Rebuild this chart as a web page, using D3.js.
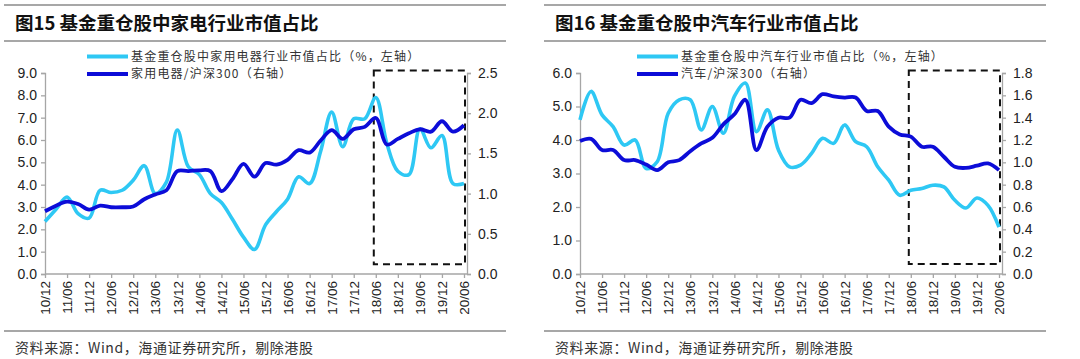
<!DOCTYPE html>
<html>
<head>
<meta charset="utf-8">
<script src="https://cdn.jsdelivr.net/npm/d3@7"></script>
<style>
  body { margin: 0; background: #fff; }
  text { font-family: "Liberation Sans", Arial, sans-serif; }
  .cjk { font-family: "Noto Sans CJK SC", sans-serif; }
</style>
</head>
<body>
<script>
var w = 1080;
var h = 359;

// quarterly categories, 10/12 .. 20/06
var quarters = ["10/12","11/03","11/06","11/09","11/12","12/03","12/06","12/09","12/12",
  "13/03","13/06","13/09","13/12","14/03","14/06","14/09","14/12","15/03","15/06","15/09",
  "15/12","16/03","16/06","16/09","16/12","17/03","17/06","17/09","17/12","18/03","18/06",
  "18/09","18/12","19/03","19/06","19/09","19/12","20/03","20/06"];

// labelled ticks (half years)
var tickLabels = ["10/12","11/06","11/12","12/06","12/12","13/06","13/12","14/06","14/12",
  "15/06","15/12","16/06","16/12","17/06","17/12","18/06","18/12","19/06","19/12","20/06"];

// 家电
var applianceShare = [2.35,2.9,3.45,2.7,2.5,3.75,3.65,3.75,4.2,4.85,3.6,4.1,6.45,4.8,4.45,
  3.6,3.2,2.45,1.65,1.1,2.2,2.8,3.35,4.35,4.05,5.5,7.25,5.7,6.95,6.95,7.9,5.85,4.6,4.45,
  6.5,5.65,6.2,4.05,4.05];
var applianceRel = [0.78,0.85,0.9,0.87,0.8,0.85,0.83,0.83,0.84,0.93,0.99,1.04,1.28,1.28,1.29,
  1.28,1.03,1.18,1.37,1.21,1.38,1.36,1.42,1.54,1.51,1.66,1.79,1.68,1.8,1.83,1.94,1.61,1.68,
  1.75,1.8,1.77,1.9,1.77,1.85];

// 汽车
var autoShare = [4.6,5.45,4.75,4.4,3.85,4.0,3.15,3.35,4.8,5.2,5.2,4.3,5.0,4.2,5.3,5.7,4.25,
  4.9,3.7,3.2,3.25,3.6,4.05,3.9,4.45,3.95,3.8,3.2,2.8,2.35,2.5,2.55,2.65,2.6,2.2,1.97,2.27,
  2.05,1.4];
var autoRel = [1.19,1.21,1.11,1.11,1.02,1.02,0.98,0.93,1.0,1.02,1.1,1.17,1.22,1.34,1.43,1.56,
  1.11,1.32,1.4,1.4,1.56,1.53,1.61,1.59,1.58,1.58,1.46,1.46,1.32,1.25,1.23,1.14,1.14,1.05,
  0.96,0.95,0.97,0.99,0.93];

var leftTicks1 = [0,1,2,3,4,5,6,7,8,9];
var rightTicks1 = [0,0.5,1,1.5,2,2.5];
var leftTicks2 = [0,1,2,3,4,5,6];
var rightTicks2 = [0,0.2,0.4,0.6,0.8,1.0,1.2,1.4,1.6,1.8];

var lightBlue = "#2ec8f4";
var darkBlue = "#0c0cd8";
var axisGray = "#a6a6a6";

var svg = d3.select("body")
    .append("svg")
    .attr("width", w)
    .attr("height", h);

var panels = [
  {
    ox: 0, title: "图15 基金重仓股中家电行业市值占比",
    xs: [45, 464], right: 467,
    share: applianceShare, rel: applianceRel,
    lMax: 9, rMax: 2.5, lTicks: leftTicks1, rTicks: rightTicks1,
    legend: ["基金重仓股中家用电器行业市值占比（%，左轴）", "家用电器/沪深300（右轴）"],
    legendX: 87,
    box: { from: "18/06", top: 2.53, bottom: 0.12 }
  },
  {
    ox: 540, title: "图16 基金重仓股中汽车行业市值占比",
    xs: [580, 999], right: 1002,
    share: autoShare, rel: autoRel,
    lMax: 6, rMax: 1.8, lTicks: leftTicks2, rTicks: rightTicks2,
    legend: ["基金重仓股中汽车行业市值占比（%，左轴）", "汽车/沪深300（右轴）"],
    legendX: 637,
    box: { from: "18/06", top: 1.823, bottom: 0.09 }
  }
];

panels.forEach(function(p) {
    var g = svg.append("g");

    // frame lines + title + source
    [5, 41, 331].forEach(function(yy) {
        g.append("line")
            .attr("x1", p.ox + 4).attr("x2", p.ox + 506)
            .attr("y1", yy).attr("y2", yy)
            .attr("stroke", "#8a8a8a").attr("stroke-width", 1.6);
    });
    g.append("text").attr("class", "cjk")
        .attr("x", p.ox + 15).attr("y", 30)
        .attr("font-size", 18.5).attr("font-weight", "bold").attr("fill", "#111")
        .text(p.title);
    g.append("text").attr("class", "cjk")
        .attr("x", p.ox + 15).attr("y", 353)
        .attr("font-size", 14).attr("fill", "#333")
        .attr("letter-spacing", 0.6)
        .text("资料来源：Wind，海通证券研究所，剔除港股");

    var x = d3.scalePoint().domain(quarters).range(p.xs);
    var yL = d3.scaleLinear().domain([0, p.lMax]).range([274, 73]);
    var yR = d3.scaleLinear().domain([0, p.rMax]).range([274, 73]);
    var left = p.xs[0];

    // left axis
    var la = g.append("g").attr("transform", "translate(" + left + ",0)")
        .call(d3.axisLeft(yL).tickValues(p.lTicks).tickFormat(d3.format(".1f")).tickSize(4).tickPadding(4));
    // right axis
    var ra = g.append("g").attr("transform", "translate(" + p.right + ",0)")
        .call(d3.axisRight(yR).tickValues(p.rTicks).tickFormat(d3.format(".1f")).tickSize(4).tickPadding(7));
    // bottom axis
    var ba = g.append("g").attr("transform", "translate(0,274)")
        .call(d3.axisBottom(x).tickValues(tickLabels).tickSize(4).tickSizeOuter(0));
    ba.select(".domain").attr("d", "M" + left + ",0H" + p.right);
    ba.selectAll(".tick text")
        .attr("transform", "rotate(-90)")
        .attr("text-anchor", "end")
        .attr("x", -7).attr("y", 0).attr("dy", "0.35em");

    [la, ra, ba].forEach(function(a) {
        a.selectAll(".domain").attr("stroke", axisGray).attr("stroke-width", 1.3);
        a.selectAll(".tick line").attr("stroke", axisGray).attr("stroke-width", 1.3);
        a.selectAll(".tick text").attr("font-size", 14).attr("fill", "#222")
            .style("font-family", "'Liberation Sans', Arial, sans-serif");
    });
    ba.selectAll(".tick text").attr("font-size", 13.5);

    // dashed box
    g.append("rect")
        .attr("x", x(p.box.from) - 2)
        .attr("y", yR(p.box.top))
        .attr("width", p.right - 2 - (x(p.box.from) - 2))
        .attr("height", yR(p.box.bottom) - yR(p.box.top))
        .attr("fill", "none").attr("stroke", "#111")
        .attr("stroke-width", 2).attr("stroke-dasharray", "7,5");

    // lines
    var lineL = d3.line()
        .x(function(d, i) { return x(quarters[i]); })
        .y(function(d) { return yL(d); })
        .curve(d3.curveCatmullRom.alpha(0.5));
    var lineR = d3.line()
        .x(function(d, i) { return x(quarters[i]); })
        .y(function(d) { return yR(d); })
        .curve(d3.curveCatmullRom.alpha(0.5));

    g.append("path").attr("d", lineL(p.share))
        .attr("fill", "none").attr("stroke", lightBlue).attr("stroke-width", 3.6)
        .attr("stroke-linejoin", "round");
    g.append("path").attr("d", lineR(p.rel))
        .attr("fill", "none").attr("stroke", darkBlue).attr("stroke-width", 3.8)
        .attr("stroke-linejoin", "round");

    // legend
    var colors = [lightBlue, darkBlue];
    p.legend.forEach(function(t, i) {
        var yy = 56.5 + i * 17.5;
        g.append("line")
            .attr("x1", p.legendX).attr("x2", p.legendX + 41)
            .attr("y1", yy).attr("y2", yy)
            .attr("stroke", colors[i]).attr("stroke-width", 4);
        g.append("text").attr("class", "cjk")
            .attr("x", p.legendX + 44).attr("y", yy).attr("dy", "0.35em")
            .attr("font-size", 12).attr("fill", "#333")
            .attr("letter-spacing", 1.2)
            .text(t);
    });
});
</script>
</body>
</html>
